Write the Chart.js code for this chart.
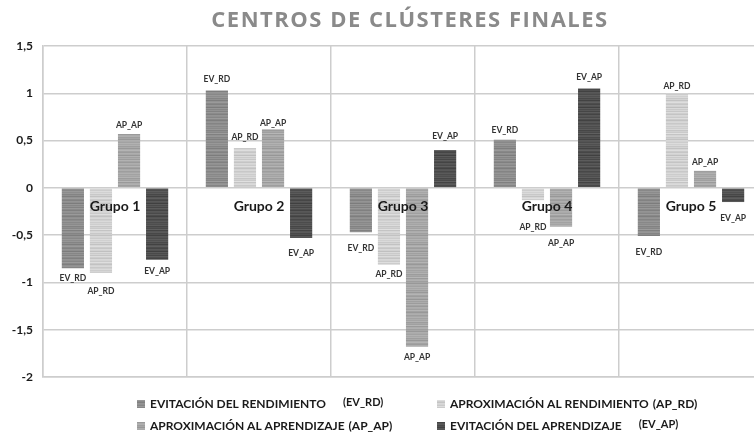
<!DOCTYPE html>
<html>
<head>
<meta charset="utf-8">
<script src="https://cdn.jsdelivr.net/npm/chart.js@4.4.1/dist/chart.umd.min.js"></script>
<style>
  html, body { margin: 0; padding: 0; background: #fff; overflow: hidden; }
</style>
</head>
<body>
<canvas id="myChart" width="766" height="433"></canvas>
<script>
// data
const categories = ['Grupo 1', 'Grupo 2', 'Grupo 3', 'Grupo 4', 'Grupo 5'];
const seriesCodes = ['EV_RD', 'AP_RD', 'AP_AP', 'EV_AP'];
const legendNames = [
    ['EVITACIÓN DEL RENDIMIENTO', '(EV_RD)'],
    ['APROXIMACIÓN AL RENDIMIENTO', '(AP_RD)'],
    ['APROXIMACIÓN AL APRENDIZAJE', '(AP_AP)'],
    ['EVITACIÓN DEL APRENDIZAJE', '(EV_AP)']
];
const evRd = [-0.85, 1.03, -0.47, 0.51, -0.51];
const apRd = [-0.90, 0.42, -0.81, -0.13, 1.00];
const apAp = [0.57, 0.62, -1.68, -0.41, 0.18];
const evAp = [-0.76, -0.53, 0.40, 1.05, -0.15];
const yTickValues = [1.5, 1, 0.5, 0, -0.5, -1, -1.5, -2];

// distance (px) of each code label from its bar end, as placed in the original
const labelGaps = [
    [10, 11, 16, 9, 16],
    [18, 11, 10, 27, 7],
    [9, 6, 11, 17, 9],
    [12, 15, 14, 11, 16]
];

const baseGrays = [140, 208, 166, 80];
// fixed stripe shading so the bars get the scanned texture look
const stripeShades = [0, 10, -8, 4, -14, 6, 14, -4, -10, 8, 2, -16, 10, -6, 6, -10, 12, -2, -12, 8, 4, -6, 14, -4, -14, 4, 8, -8, 0, 10, -4, 6,
    -2, 12, -10, 2, -6, 16, -12, 6, 10, -8, 0, -14, 8, 4, -4, 12];

function stripePattern(gray) {
    const c = document.createElement('canvas');
    c.width = 4;
    c.height = stripeShades.length;
    const g = c.getContext('2d');
    stripeShades.forEach((s, i) => {
        const v = Math.max(0, Math.min(255, gray + s));
        g.fillStyle = 'rgb(' + v + ',' + v + ',' + v + ')';
        g.fillRect(0, i, 4, 1);
    });
    return g.createPattern(c, 'repeat');
}

const seriesValues = [evRd, apRd, apAp, evAp];

const labelsPlugin = {
    id: 'labelsPlugin',
    afterDatasetsDraw(chart) {
        const ctx = chart.ctx;
        const x = chart.scales.x;
        const y = chart.scales.y;
        ctx.save();
        // small code labels on each bar
        ctx.font = 'bold 8.5px Lato';
        ctx.fillStyle = '#333';
        ctx.textAlign = 'center';
        ctx.textBaseline = 'middle';
        chart.data.datasets.forEach((ds, di) => {
            const meta = chart.getDatasetMeta(di);
            meta.data.forEach((bar, i) => {
                const gap = labelGaps[di][i];
                const ly = ds.data[i] >= 0 ? bar.y - gap : bar.y + gap;
                ctx.fillText(seriesCodes[di], bar.x, ly);
            });
        });
        // group names just under zero line
        ctx.font = 'bold 14px Lato';
        ctx.fillStyle = '#1a1a1a';
        const zero = y.getPixelForValue(0);
        categories.forEach((c, i) => {
            ctx.fillText(c, x.getPixelForValue(i), zero + 19);
        });
        ctx.restore();
    },
    afterDraw(chart) {
        const ctx = chart.ctx;
        ctx.save();
        // title
        ctx.font = 'bold 22px "Open Sans"';
        ctx.letterSpacing = '1.5px';
        ctx.fillStyle = '#8a8a8a';
        ctx.textAlign = 'center';
        ctx.textBaseline = 'middle';
        ctx.fillText('CENTROS DE CLÚSTERES FINALES', 410, 21);
        ctx.letterSpacing = '0px';
        // legend in two columns
        const colX = [137, 437];
        const rowY = [404, 426];
        ctx.textAlign = 'left';
        legendNames.forEach((parts, i) => {
            const lx = colX[i % 2];
            const ly = rowY[Math.floor(i / 2)];
            ctx.fillStyle = chart.data.datasets[i].backgroundColor;
            ctx.fillRect(lx, ly - 4, 8, 8);
            ctx.fillStyle = '#1a1a1a';
            ctx.font = 'bold 12px Lato';
            ctx.fillText(parts[0], lx + 13, ly);
            const w = ctx.measureText(parts[0]).width;
            const raised = i === 0 || i === 3;
            if (raised) {
                ctx.font = 'bold 11px Lato';
                ctx.fillText(parts[1], lx + 13 + w + 17, ly - 2);
            } else {
                ctx.fillText(parts[1], lx + 13 + w + 4, ly);
            }
        });
        ctx.restore();
    }
};

document.addEventListener('DOMContentLoaded', function() {
    const ctx = document.getElementById('myChart').getContext('2d');
    const datasets = seriesValues.map((vals, i) => ({
        label: seriesCodes[i],
        data: vals,
        backgroundColor: stripePattern(baseGrays[i]),
        borderWidth: 0,
        categoryPercentage: 0.78,
        barPercentage: 0.79
    }));

    new Chart(ctx, {
        type: 'bar',
        data: { labels: categories, datasets: datasets },
        options: {
            responsive: false,
            animation: false,
            maintainAspectRatio: false,
            layout: { padding: { top: 46, bottom: 56, right: 3, left: 0 } },
            plugins: {
                legend: { display: false },
                title: { display: false },
                tooltip: { enabled: false }
            },
            scales: {
                x: {
                    ticks: { display: false },
                    grid: { color: '#cdcdcd', lineWidth: 1.5, drawTicks: false, offset: true },
                    border: { color: '#cdcdcd', width: 1.5 },
                    afterFit(s) { s.height = 0; }
                },
                y: {
                    min: -2,
                    max: 1.5,
                    afterBuildTicks(s) { s.ticks = yTickValues.map(v => ({ value: v })); },
                    ticks: {
                        padding: 10,
                        color: '#1a1a1a',
                        font: { family: 'Lato', weight: 'bold', size: 12 },
                        callback: v => String(v).replace('.', ',')
                    },
                    grid: { color: '#cdcdcd', lineWidth: 1.5, drawTicks: false },
                    border: { color: '#cdcdcd', width: 1.5 },
                    afterFit(s) { s.width = 43; }
                }
            }
        },
        plugins: [labelsPlugin]
    });
});
</script>
</body>
</html>
